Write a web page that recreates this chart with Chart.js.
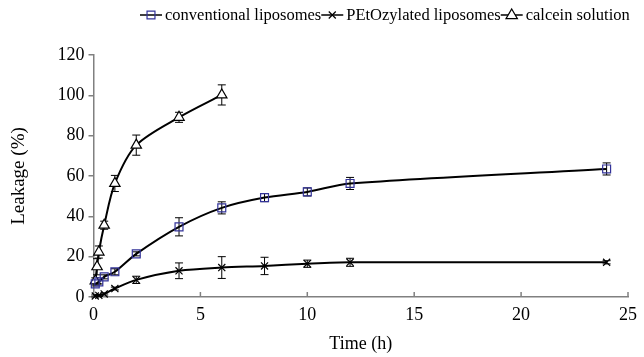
<!DOCTYPE html>
<html>
<head>
<meta charset="utf-8">
<script src="https://cdn.jsdelivr.net/npm/chart.js@4.4.0/dist/chart.umd.min.js"></script>
<style>
  html, body { margin: 0; padding: 0; background: #fff; }
</style>
</head>
<body>
<canvas id="leakChart" width="644" height="357"></canvas>
<script>
// series names (legend)
const seriesNames = ['conventional liposomes', 'PEtOzylated liposomes', 'calcein solution'];

// conventional liposomes
const convTime = [0.083, 0.25, 0.5, 1, 2, 4, 6, 8, 10, 12, 24];
const convLeak = [6.5, 7.5, 10, 12.5, 21.4, 34.8, 44.2, 49.3, 52.1, 56.3, 63.5];
const convErr  = [1, 1, 1, 1.5, 1, 4.5, 3, 2, 2, 3, 3];

// PEtOzylated liposomes
const petTime = [0.083, 0.25, 0.5, 1, 2, 4, 6, 8, 10, 12, 24];
const petLeak = [0.5, 0.8, 1.5, 4.2, 8.5, 13, 14.6, 15.4, 16.5, 17.2, 17.2];
const petErr  = [0.5, 0.5, 0.5, 0.7, 1.8, 3.9, 5.4, 4.3, 1.8, 2, 0.8];

// calcein solution
const calTime = [0.083, 0.167, 0.25, 0.5, 1, 2, 4, 6];
const calLeak = [8, 15, 22.3, 35.6, 56.3, 75.3, 89.1, 100.2];
const calErr  = [1.5, 4, 3, 2, 4, 5, 2.5, 5];

// axis ticks
const xTicks = [0, 5, 10, 15, 20, 25];
const yTicks = [0, 20, 40, 60, 80, 100, 120];

const FONT = 'Liberation Serif, Times New Roman, serif';
const AXIS_GREY = '#808080';

function pts(t, v) {
  return t.map((x, i) => ({ x: x, y: v[i] }));
}

function drawMarker(ctx, style, x, y, r, color, fill) {
  ctx.save();
  ctx.strokeStyle = color;
  ctx.lineWidth = 1.2;
  ctx.beginPath();
  if (style === 'rect') {
    const s = r * Math.SQRT2;
    ctx.rect(x - s / 2, y - s / 2, s, s);
    if (fill) { ctx.fillStyle = fill; ctx.fill(); }
    ctx.stroke();
  } else if (style === 'triangle') {
    ctx.moveTo(x, y - r);
    ctx.lineTo(x + r * 0.95, y + r * 0.6);
    ctx.lineTo(x - r * 0.95, y + r * 0.6);
    ctx.closePath();
    if (fill) { ctx.fillStyle = fill; ctx.fill(); }
    ctx.stroke();
  } else {
    const d = r * 0.7;
    ctx.moveTo(x - d, y - d); ctx.lineTo(x + d, y + d);
    ctx.moveTo(x + d, y - d); ctx.lineTo(x - d, y + d);
    ctx.stroke();
  }
  ctx.restore();
}

// error bars drawn under the lines and markers
const errorBars = {
  id: 'errorBars',
  beforeDatasetsDraw(chart) {
    const ctx = chart.ctx;
    const xs = chart.scales.x, ys = chart.scales.y;
    ctx.save();
    ctx.strokeStyle = '#000';
    ctx.lineWidth = 1;
    chart.data.datasets.forEach(ds => {
      ds.data.forEach((p, i) => {
        const e = ds.errors[i];
        if (!e) return;
        const px = xs.getPixelForValue(p.x);
        const top = ys.getPixelForValue(p.y + e);
        const bot = ys.getPixelForValue(p.y - e);
        ctx.beginPath();
        ctx.moveTo(px, top); ctx.lineTo(px, bot);
        ctx.moveTo(px - 4, top); ctx.lineTo(px + 4, top);
        ctx.moveTo(px - 4, bot); ctx.lineTo(px + 4, bot);
        ctx.stroke();
      });
    });
    ctx.restore();
  }
};

// small x ticks pointing into the plot, plus the legend row on top
const extras = {
  id: 'extras',
  afterDraw(chart) {
    const ctx = chart.ctx;
    const xs = chart.scales.x;
    const base = chart.chartArea.bottom;
    ctx.save();
    ctx.strokeStyle = AXIS_GREY;
    ctx.lineWidth = 1.5;
    xTicks.forEach(v => {
      if (v === 0) return;
      const px = xs.getPixelForValue(v);
      ctx.beginPath();
      ctx.moveTo(px, base); ctx.lineTo(px, base - 5);
      ctx.stroke();
    });

    ctx.font = '16.5px ' + FONT;
    ctx.textBaseline = 'middle';
    ctx.fillStyle = '#000';
    let x = 140;
    const y = 15;
    chart.data.datasets.forEach(ds => {
      ctx.strokeStyle = '#000';
      ctx.lineWidth = 1.5;
      ctx.beginPath();
      ctx.moveTo(x, y); ctx.lineTo(x + 22, y);
      ctx.stroke();
      drawMarker(ctx, ds.pointStyle, x + 11, y, ds.pointRadius, ds.pointBorderColor, ds.pointBackgroundColor);
      ctx.fillText(ds.label, x + 25, y + 1);
      x += 25 + ctx.measureText(ds.label).width;
    });
    ctx.restore();
  }
};

const datasets = [
  {
    label: seriesNames[0],
    data: pts(convTime, convLeak),
    errors: convErr,
    pointStyle: 'rect',
    pointRadius: 5.6,
    pointBorderColor: '#333399',
    pointBackgroundColor: 'rgba(0,0,0,0)'
  },
  {
    label: seriesNames[1],
    data: pts(petTime, petLeak),
    errors: petErr,
    pointStyle: 'crossRot',
    pointRadius: 5,
    pointBorderColor: '#000',
    pointBackgroundColor: '#000'
  },
  {
    label: seriesNames[2],
    data: pts(calTime, calLeak),
    errors: calErr,
    pointStyle: 'triangle',
    pointRadius: 6,
    pointBorderColor: '#000',
    pointBackgroundColor: '#fff'
  }
].map(ds => Object.assign({
  borderColor: '#000',
  borderWidth: 2,
  tension: 0.3,
  pointBorderWidth: 1.2,
  pointHoverRadius: 5,
  clip: false,
  fill: false
}, ds));

new Chart(document.getElementById('leakChart'), {
  type: 'line',
  data: { datasets: datasets },
  options: {
    responsive: false,
    animation: false,
    layout: { padding: { top: 55, right: 11, left: 0, bottom: 0 } },
    plugins: {
      legend: { display: false },
      tooltip: { enabled: false }
    },
    scales: {
      x: {
        type: 'linear',
        min: 0,
        max: 25,
        afterBuildTicks(scale) { scale.ticks = xTicks.map(v => ({ value: v })); },
        ticks: { color: '#000', padding: 7, font: { family: FONT, size: 18 } },
        grid: { display: true, drawOnChartArea: false, drawTicks: false, color: AXIS_GREY },
        border: { display: true, color: AXIS_GREY, width: 1.5 },
        title: { display: true, text: 'Time (h)', color: '#000', font: { family: FONT, size: 18 }, padding: { top: 0, bottom: 2 } },
        afterFit(scale) { scale.height = 60; }
      },
      y: {
        type: 'linear',
        min: 0,
        max: 120,
        afterBuildTicks(scale) { scale.ticks = yTicks.map(v => ({ value: v })); },
        ticks: { color: '#000', padding: 4, font: { family: FONT, size: 18 } },
        grid: { display: true, drawOnChartArea: false, drawTicks: true, tickLength: 5, color: AXIS_GREY, lineWidth: 1.5 },
        border: { display: true, color: AXIS_GREY, width: 1.5 },
        title: { display: true, text: 'Leakage (%)', color: '#000', font: { family: FONT, size: 19 }, padding: { top: 8, bottom: 0 } },
        afterFit(scale) { scale.width = 93.5; }
      }
    }
  },
  plugins: [errorBars, extras]
});
</script>
</body>
</html>
